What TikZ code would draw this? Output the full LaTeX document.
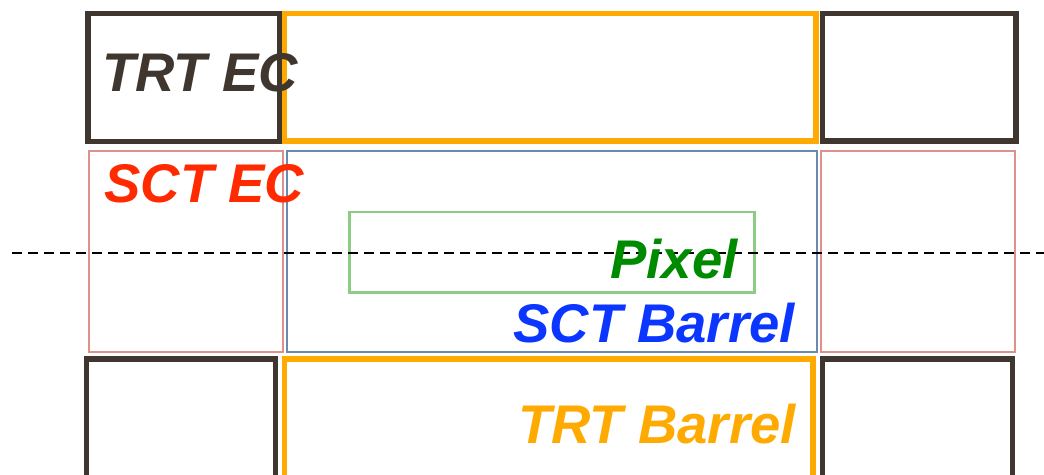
\documentclass[tikz,border=0pt]{standalone}
\usepackage{fontspec}
\setmainfont{Liberation Sans}
\usepackage{tikz}
\usetikzlibrary{positioning}
\definecolor{trtdark}{HTML}{3F372F}
\definecolor{trtorange}{HTML}{FFAA00}
\definecolor{sctecline}{HTML}{E0908A}
\definecolor{sctbarline}{HTML}{6A8AB0}
\definecolor{pixline}{HTML}{8CCC84}
\definecolor{sctectext}{HTML}{FF2A00}
\definecolor{pixtext}{HTML}{008A00}
\definecolor{sctbartext}{HTML}{0A36FF}

\begin{document}
\begin{tikzpicture}[
  x=0.02cm, y=-0.02cm,
  lbl/.style={anchor=base west, inner sep=0pt,
    font=\fontsize{31}{34}\selectfont\bfseries\itshape},
  trtec/.style={draw=trtdark, line width=3pt},
  trtbar/.style={draw=trtorange, line width=3pt},
  sctec/.style={draw=sctecline, line width=1.6pt},
  sctbar/.style={draw=sctbarline, line width=1.2pt},
  pix/.style={draw=pixline, line width=1.4pt}]
% frame of the picture
\clip (0,0) rectangle (1044,474);
% TRT end-caps and barrel, top row
\draw[trtec] (88,13.5) rectangle (280,141.5);
\draw[trtbar] (284.5,13.5) rectangle (816,141);
\draw[trtec] (822.5,13.5) rectangle (1016,141);
% SCT end-caps and barrel, middle row
\draw[sctec] (89,151) rectangle (283,352);
\draw[sctbar] (287,151) rectangle (817,352);
\draw[sctec] (821,151) rectangle (1015,352);
% pixel detector
\draw[pix] (349.5,212) rectangle (754.5,292.5);
% TRT end-caps and barrel, bottom row
\draw[trtec] (86.5,359) rectangle (275.5,490);
\draw[trtbar] (284.5,359) rectangle (813,490);
\draw[trtec] (822.5,359) rectangle (1012.5,490);
% beam axis
\draw[line width=1.1pt, dash pattern=on 0.2cm off 0.12cm] (12,253) -- (1044,253);
% labels
\node[lbl, text=trtdark] (trtEC) at (102,91) {TRT EC};
\node[lbl, text=sctectext] (sctEC) at (104,202) {SCT EC};
\node[lbl, text=pixtext] (pixel) at (610,278) {Pixel};
\node[lbl, text=sctbartext] (sctBarrel) at (513,342) {SCT Barrel};
\node[lbl, text=trtorange] (trtBarrel) at (518,443) {TRT Barrel};
\end{tikzpicture}
\end{document}
